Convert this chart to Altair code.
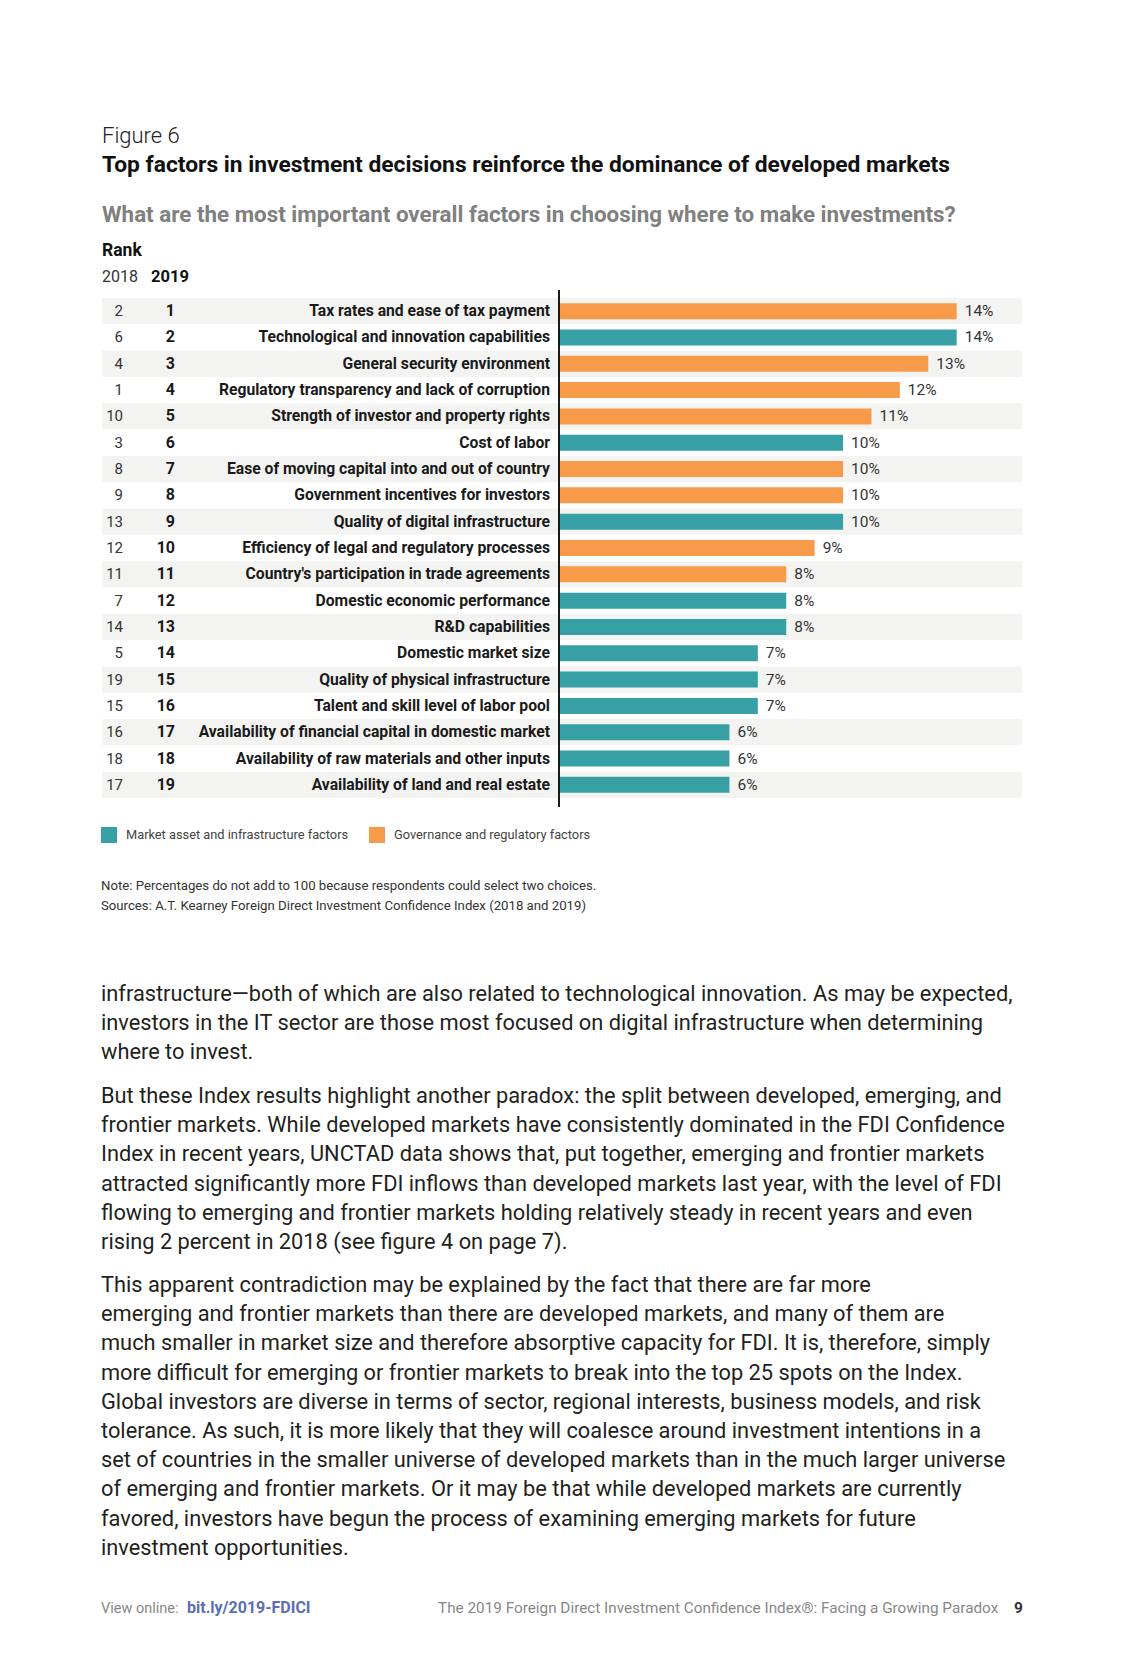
import altair as alt
import pandas as pd

# ---------------- data ----------------
factors = [
    "Tax rates and ease of tax payment",
    "Technological and innovation capabilities",
    "General security environment",
    "Regulatory transparency and lack of corruption",
    "Strength of investor and property rights",
    "Cost of labor",
    "Ease of moving capital into and out of country",
    "Government incentives for investors",
    "Quality of digital infrastructure",
    "Efficiency of legal and regulatory processes",
    "Country's participation in trade agreements",
    "Domestic economic performance",
    "R&D capabilities",
    "Domestic market size",
    "Quality of physical infrastructure",
    "Talent and skill level of labor pool",
    "Availability of financial capital in domestic market",
    "Availability of raw materials and other inputs",
    "Availability of land and real estate",
]
rank_2018 = [2, 6, 4, 1, 10, 3, 8, 9, 13, 12, 11, 7, 14, 5, 19, 15, 16, 18, 17]
rank_2019 = list(range(1, 20))
shares = [14, 14, 13, 12, 11, 10, 10, 10, 10, 9, 8, 8, 8, 7, 7, 7, 6, 6, 6]
GOV = "Governance and regulatory factors"
MKT = "Market asset and infrastructure factors"
groups = [GOV, MKT, GOV, GOV, GOV, MKT, GOV, GOV, MKT, GOV, GOV,
          MKT, MKT, MKT, MKT, MKT, MKT, MKT, MKT]

figure_label = "Figure 6"
title_text = "Top factors in investment decisions reinforce the dominance of developed markets"
question_text = "What are the most important overall factors in choosing where to make investments?"
note_lines = [
    "Note: Percentages do not add to 100 because respondents could select two choices.",
    "Sources: A.T. Kearney Foreign Direct Investment Confidence Index (2018 and 2019)",
]
paragraphs = [
    [
        "infrastructure\u2014both of which are also related to technological innovation. As may be expected,",
        "investors in the IT sector are those most focused on digital infrastructure when determining",
        "where to invest.",
    ],
    [
        "But these Index results highlight another paradox: the split between developed, emerging, and",
        "frontier markets. While developed markets have consistently dominated in the FDI Confidence",
        "Index in recent years, UNCTAD data shows that, put together, emerging and frontier markets",
        "attracted significantly more FDI inflows than developed markets last year, with the level of FDI",
        "flowing to emerging and frontier markets holding relatively steady in recent years and even",
        "rising 2 percent in 2018 (see figure 4 on page 7).",
    ],
    [
        "This apparent contradiction may be explained by the fact that there are far more",
        "emerging and frontier markets than there are developed markets, and many of them are",
        "much smaller in market size and therefore absorptive capacity for FDI. It is, therefore, simply",
        "more difficult for emerging or frontier markets to break into the top 25 spots on the Index.",
        "Global investors are diverse in terms of sector, regional interests, business models, and risk",
        "tolerance. As such, it is more likely that they will coalesce around investment intentions in a",
        "set of countries in the smaller universe of developed markets than in the much larger universe",
        "of emerging and frontier markets. Or it may be that while developed markets are currently",
        "favored, investors have begun the process of examining emerging markets for future",
        "investment opportunities.",
    ],
]
footer_left = "View online: "
footer_link = "bit.ly/2019-FDICI"
footer_mid = "The 2019 Foreign Direct Investment Confidence Index\u00ae: Facing a Growing Paradox"
footer_page = "9"

# ---------------- style / layout ----------------
FONT = "Roboto"
TEAL = "#36a0a5"
ORANGE = "#f79b4b"
STRIPE = "#f3f3f1"
DARK = "#1a1a1a"

W, H = 1106, 1638
PLOT_TOP, PLOT_BOT = 290, 790
AXIS_X, BAR_RIGHT = 551, 1014
ROW_LEFT = 94

df = pd.DataFrame({
    "factor": factors,
    "rank_2018": rank_2018,
    "rank_2019": rank_2019,
    "share": shares,
    "group": groups,
})
df["pct"] = df["share"].astype(str) + "%"
df["r18"] = df["rank_2018"].astype(str)
df["r19"] = df["rank_2019"].astype(str)

one = pd.DataFrame({"k": [0]})

y_enc = alt.Y("factor:N", sort=factors, axis=None,
              scale=alt.Scale(paddingInner=0, paddingOuter=0,
                              range=[PLOT_TOP, PLOT_BOT]))
x_enc = alt.X("share:Q", axis=None,
              scale=alt.Scale(domain=[0, 16.3], nice=False, zero=True,
                              range=[AXIS_X, BAR_RIGHT]))

base = alt.Chart(df)

stripes = base.mark_rect().encode(
    y=y_enc, x=alt.value(ROW_LEFT), x2=alt.value(BAR_RIGHT),
    color=alt.condition("datum.rank_2019 % 2 == 1",
                        alt.value(STRIPE), alt.value("#ffffff")))
t18 = base.mark_text(align="right", baseline="middle", font=FONT,
                     fontSize=15, color="#333333").encode(
    y=y_enc, x=alt.value(115), text="r18:N")
t19 = base.mark_text(align="right", baseline="middle", font=FONT,
                     fontSize=16, fontWeight="bold", color=DARK).encode(
    y=y_enc, x=alt.value(167), text="r19:N")
tlab = base.mark_text(align="right", baseline="middle", font=FONT,
                      fontSize=15.7, fontWeight="bold", color=DARK).encode(
    y=y_enc, x=alt.value(542), text="factor:N")
bars = base.mark_bar(size=16).encode(
    x=x_enc, y=y_enc,
    color=alt.Color("group:N",
                    scale=alt.Scale(domain=[MKT, GOV], range=[TEAL, ORANGE]),
                    legend=alt.Legend(orient="none", legendX=93, legendY=819,
                                      direction="horizontal", title=None,
                                      symbolType="square", symbolSize=256,
                                      symbolStrokeWidth=0, symbolOpacity=1,
                                      labelFont=FONT, labelFontSize=12.8,
                                      labelColor="#444444", labelOffset=9,
                                      labelLimit=0, columnPadding=20,
                                      padding=0)),
)
pct = base.mark_text(align="left", baseline="middle", dx=8, font=FONT,
                     fontSize=15.5, color="#333333").encode(
    x=x_enc, y=y_enc, text="pct:N")
axis_line = alt.Chart(one).mark_rule(color=DARK, strokeWidth=2).encode(
    x=alt.value(AXIS_X), y=alt.value(PLOT_TOP - 8), y2=alt.value(PLOT_BOT + 9))


def txt(text, x, y, size, weight="normal", color=DARK, align="left"):
    return alt.Chart(one).mark_text(
        align=align, baseline="alphabetic", font=FONT, fontSize=size,
        fontWeight=weight, color=color).encode(
        x=alt.value(x), y=alt.value(y), text=alt.value(text))


header = [
    txt(figure_label, 94, 135, 22, weight=300, color="#222222"),
    txt(title_text, 94, 164, 22.8, weight="bold", color="#111111"),
    txt(question_text, 94, 214, 22.4, weight="bold", color="#808080"),
    txt("Rank", 94, 248, 17.5, weight="bold", color="#111111"),
    txt("2018", 94, 274, 16, color="#333333"),
    txt("2019", 143, 274, 16.5, weight="bold", color="#111111"),
]

note_df = pd.DataFrame({"text": note_lines, "i": range(len(note_lines))})
note_df["y"] = 882 + note_df["i"] * 20
notes = alt.Chart(note_df).mark_text(
    align="left", baseline="alphabetic", font=FONT, fontSize=13.2,
    color="#333333").encode(x=alt.value(93), y=alt.Y("y:Q", scale=None),
                            text="text:N")

rows = []
para_start = [993, 1095, 1284]
for p, lines in enumerate(paragraphs):
    for i, line in enumerate(lines):
        rows.append({"text": line, "y": para_start[p] + i * 29.2})
body_df = pd.DataFrame(rows)
body = alt.Chart(body_df).mark_text(
    align="left", baseline="alphabetic", font=FONT, fontSize=21.8,
    color="#231f20").encode(x=alt.value(93), y=alt.Y("y:Q", scale=None),
                            text="text:N")

footer = [
    txt(footer_left, 93, 1605, 14.5, color="#888888"),
    txt(footer_link, 179, 1605, 16, weight="bold", color="#5b6db3"),
    txt(footer_mid, 430, 1605, 15.3, color="#888888"),
    txt(footer_page, 1006, 1605, 15.5, weight="bold", color="#333333"),
]

chart = alt.layer(
    stripes, bars, pct, axis_line, t18, t19, tlab,
    *header, notes, body, *footer
).resolve_scale(y="independent").properties(
    width=W, height=H, padding=0, background="white",
    autosize=alt.AutoSizeParams(type="none")
).configure_view(stroke=None).configure_text(font=FONT)

chart.save("out.html", embed_options={"renderer": "svg", "actions": False})
